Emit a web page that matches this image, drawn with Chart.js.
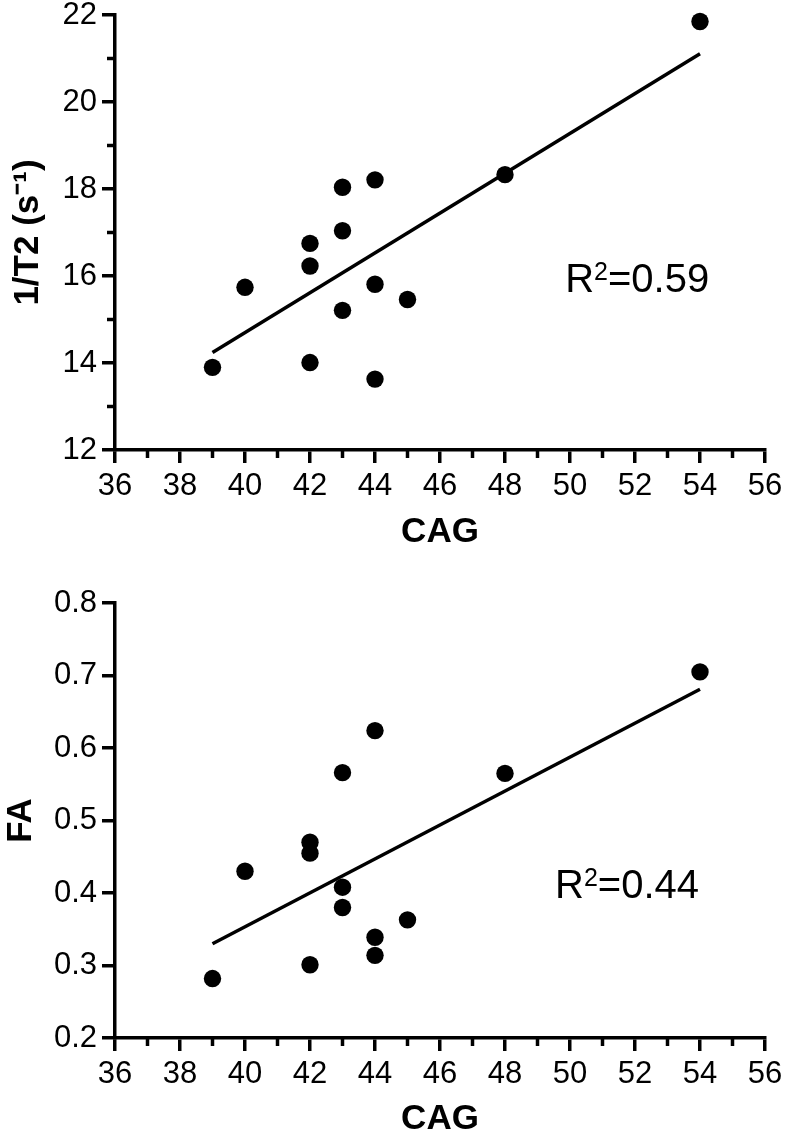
<!DOCTYPE html>
<html>
<head>
<meta charset="utf-8">
<script src="https://cdn.jsdelivr.net/npm/chart.js@4.4.0/dist/chart.umd.min.js"></script>
<style>
body { margin: 0; background: #fff; }
canvas { display: block; }
</style>
</head>
<body>
<canvas id="t2Chart" width="786" height="568"></canvas>
<canvas id="faChart" width="786" height="569"></canvas>
<script>
// CAG repeat length per subject (same subjects in both panels)
const cag = [39, 40, 42, 42, 42, 43, 43, 43, 44, 44, 44, 45, 48, 54];
// 1/T2 (s-1) per subject
const t2rate = [13.90, 15.74, 16.75, 16.23, 14.01, 18.04, 17.04, 15.21, 18.21, 15.81, 13.63, 15.46, 18.33, 21.85];
// FA per subject
const fa = [0.282, 0.430, 0.470, 0.455, 0.301, 0.566, 0.408, 0.380, 0.624, 0.339, 0.314, 0.363, 0.565, 0.705];

// regression lines, end points
const fitX = [39, 54];
const t2Fit = [14.24, 21.11];
const faFit = [0.330, 0.681];

const r2Text = ['0.59', '0.44'];

const FONT = '"Liberation Sans", Arial, sans-serif';
const LW = 3.5;

function pts(xs, ys) {
  return xs.map((v, i) => ({ x: v, y: ys[i] }));
}

// short ticks half way between the labelled ones
const minorTicks = {
  id: 'minorTicks',
  afterDraw(chart, args, opts) {
    const ctx = chart.ctx;
    ctx.save();
    ctx.strokeStyle = '#000';
    ctx.lineWidth = LW;
    (opts.axes || []).forEach(id => {
      const s = chart.scales[id];
      const vals = s.ticks.map(t => t.value);
      for (let i = 0; i < vals.length - 1; i++) {
        const p = s.getPixelForValue((vals[i] + vals[i + 1]) / 2);
        ctx.beginPath();
        if (s.isHorizontal()) {
          ctx.moveTo(p, s.top);
          ctx.lineTo(p, s.top + 8);
        } else {
          ctx.moveTo(s.right, p);
          ctx.lineTo(s.right - 8, p);
        }
        ctx.stroke();
      }
    });
    ctx.restore();
  }
};

const rSquared = {
  id: 'rSquared',
  afterDatasetsDraw(chart, args, o) {
    if (!o.value) return;
    const ctx = chart.ctx;
    let px = chart.scales.x.getPixelForValue(o.x);
    const py = chart.scales.y.getPixelForValue(o.y);
    ctx.save();
    ctx.fillStyle = '#000';
    ctx.textBaseline = 'alphabetic';
    ctx.textAlign = 'left';
    ctx.font = '40px ' + FONT;
    ctx.fillText('R', px, py);
    px += ctx.measureText('R').width;
    ctx.font = '25px ' + FONT;
    ctx.fillText('2', px, py - 12);
    px += ctx.measureText('2').width;
    ctx.font = '40px ' + FONT;
    ctx.fillText('=' + o.value, px, py);
    ctx.restore();
  }
};

function makeChart(id, ys, fitYs, yOpts, cfg) {
  const ctx = document.getElementById(id).getContext('2d');
  return new Chart(ctx, {
    type: 'scatter',
    data: {
      datasets: [
        {
          data: pts(cag, ys),
          backgroundColor: '#000',
          borderWidth: 0,
          pointRadius: 8.7,
          pointHoverRadius: 8.7,
          clip: false
        },
        {
          type: 'line',
          data: pts(fitX, fitYs),
          borderColor: '#000',
          borderWidth: LW,
          pointRadius: 0,
          fill: false
        }
      ]
    },
    options: {
      responsive: false,
      animation: false,
      events: [],
      layout: { padding: { top: cfg.padTop, right: 21, left: 0, bottom: 0 } },
      plugins: {
        legend: { display: false },
        tooltip: { enabled: false },
        minorTicks: { axes: cfg.minorAxes },
        rSquared: cfg.r2
      },
      scales: {
        x: {
          type: 'linear',
          min: 36,
          max: 56,
          afterFit: s => {
            s.height = cfg.xHeight;
            s.paddingLeft = 0; s.paddingRight = 0;
          },
          ticks: { stepSize: 2, color: '#000', padding: 5, font: { family: FONT, size: 31 }, maxRotation: 0 },
          grid: { drawOnChartArea: false, color: '#000', lineWidth: LW, tickLength: 13 },
          border: { color: '#000', width: LW },
          title: {
            display: true, text: 'CAG', color: '#000',
            font: { family: FONT, size: 35, weight: 'bold', lineHeight: 1 },
            padding: { top: 0, bottom: cfg.xTitlePad }
          }
        },
        y: Object.assign({
          type: 'linear',
          afterFit: s => {
            s.width = 115;
            s.paddingTop = 0; s.paddingBottom = 0;
          },
          grid: { drawOnChartArea: false, color: '#000', lineWidth: LW, tickLength: 13 },
          border: { color: '#000', width: LW }
        }, yOpts)
      }
    },
    plugins: [minorTicks, rSquared]
  });
}

makeChart('t2Chart', t2rate, t2Fit, {
  min: 12,
  max: 22,
  ticks: { stepSize: 2, color: '#000', padding: 5, font: { family: FONT, size: 31 } },
  title: {
    display: true, text: '1/T2 (s\u207B\u00B9)', color: '#000',
    font: { family: FONT, size: 35, weight: 'bold', lineHeight: 1 },
    padding: { top: 11, bottom: 0 }
  }
}, {
  padTop: 15, xHeight: 118, xTitlePad: 18,
  minorAxes: ['x', 'y'],
  r2: { x: 49.85, y: 15.63, value: r2Text[0] }
});

makeChart('faChart', fa, faFit, {
  min: 0.2,
  max: 0.8,
  ticks: {
    stepSize: 0.1, color: '#000', padding: 5, font: { family: FONT, size: 31 },
    callback: v => v.toFixed(1)
  },
  title: {
    display: true, text: 'FA', color: '#000',
    font: { family: FONT, size: 35, weight: 'bold', lineHeight: 1 },
    padding: { top: 4, bottom: 0 }
  }
}, {
  padTop: 35, xHeight: 99, xTitlePad: 0,
  minorAxes: ['x'],
  r2: { x: 49.54, y: 0.3935, value: r2Text[1] }
});
</script>
</body>
</html>
